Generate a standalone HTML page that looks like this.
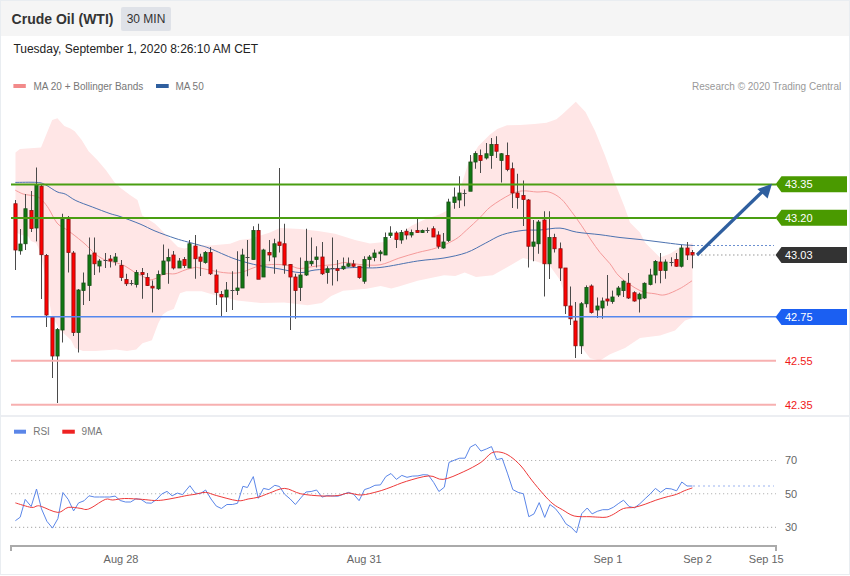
<!DOCTYPE html>
<html><head><meta charset="utf-8"><style>
html,body{margin:0;padding:0;}
body{width:850px;height:576px;overflow:hidden;background:#fff;font-family:"Liberation Sans",sans-serif;}
#wrap{position:relative;width:850px;height:575px;box-sizing:border-box;border:1px solid #e9edf1;background:#fff;}
#hdr{position:absolute;left:0;top:0;width:848px;height:35px;background:#f5f5f5;}
#title{position:absolute;left:10.6px;top:8px;font-size:14px;font-weight:bold;color:#333;line-height:20px;}
#badge{position:absolute;left:120px;top:6px;width:50px;height:24px;background:#dfe2e8;border-radius:2px;font-size:12px;color:#333;line-height:24px;text-align:center;}
#date{position:absolute;left:12.4px;top:39.7px;font-size:12px;color:#222;line-height:16px;}
svg{position:absolute;left:-1px;top:-1px;}
svg text{font-family:"Liberation Sans",sans-serif;}
</style></head><body><div id="wrap">
<div id="hdr"></div>
<div id="title">Crude Oil (WTI)</div>
<div id="badge">30 MIN</div>
<div id="date">Tuesday, September 1, 2020 8:26:10 AM CET</div>
<svg width="850" height="576" viewBox="0 0 850 576">
<polygon points="15.5,152.5 20.0,149.0 41.0,147.5 52.2,120.0 57.4,118.2 64.3,126.0 70.4,128.6 74.7,131.2 81.7,140.0 88.6,151.2 97.3,159.9 106.0,170.3 114.7,182.5 120.0,187.5 130.0,195.0 137.5,200.0 142.2,215.6 154.7,223.4 159.4,228.0 165.6,234.4 178.0,247.0 184.4,248.4 190.6,246.9 200.0,245.3 210.0,245.5 230.0,243.8 240.0,240.0 250.0,238.8 270.0,232.5 280.0,228.0 300.0,229.0 318.0,231.0 335.0,233.8 355.0,240.0 370.0,243.6 384.0,242.0 398.0,235.0 412.0,225.5 425.6,219.0 439.4,214.4 449.5,209.3 459.0,193.0 468.6,162.0 478.2,146.3 489.7,134.8 497.3,129.0 507.0,125.3 520.0,125.0 534.5,124.0 546.6,122.8 556.4,119.2 562.4,114.3 575.8,101.7 585.5,112.0 595.2,131.3 605.0,155.6 614.7,182.3 624.4,206.6 630.0,222.5 640.0,232.5 645.0,242.5 660.0,257.5 670.0,253.8 680.0,247.5 692.5,243.0 692.5,318.0 685.0,320.5 675.0,330.5 660.0,335.5 640.0,338.0 625.0,348.0 610.0,354.2 600.0,360.4 590.0,358.3 580.0,345.0 575.0,335.0 570.0,310.0 565.0,295.0 560.0,280.0 550.0,266.0 535.0,261.0 523.0,258.0 508.0,266.7 492.9,275.2 476.0,277.0 464.7,272.4 455.3,276.1 444.0,275.2 417.6,280.8 398.8,286.5 391.3,288.4 380.6,286.0 366.5,288.8 343.0,290.7 331.2,295.9 321.8,303.0 307.6,305.3 284.0,302.5 260.6,303.0 237.0,300.6 213.5,294.7 201.8,291.2 186.2,291.2 180.0,293.3 173.8,308.9 167.5,311.2 162.8,314.4 158.1,323.8 151.9,340.2 142.5,343.3 136.2,349.5 126.9,351.0 116.0,349.5 95.6,351.0 83.0,351.0 75.0,348.0 71.0,340.0 60.0,330.0 51.4,315.0 47.5,287.5 41.0,256.0 38.0,247.0 36.0,243.0 31.0,241.0 28.0,236.0 21.0,235.0 15.5,232.0" fill="#ffe6e6"/>
<path d="M15.30,190.20 C16.38,190.75 19.93,192.75 21.80,193.50 C23.67,194.25 23.97,194.20 26.50,194.70 C29.03,195.20 34.25,195.42 37.00,196.50 C39.75,197.58 41.03,199.15 43.00,201.20 C44.97,203.25 46.47,205.17 48.80,208.80 C51.13,212.43 54.25,219.67 57.00,223.00 C59.75,226.33 62.80,227.05 65.30,228.80 C67.80,230.55 68.72,230.97 72.00,233.50 C75.28,236.03 81.17,240.62 85.00,244.00 C88.83,247.38 91.67,251.08 95.00,253.75 C98.33,256.42 101.67,258.54 105.00,260.00 C108.33,261.46 111.67,261.50 115.00,262.50 C118.33,263.50 121.67,264.33 125.00,266.00 C128.33,267.67 131.67,270.58 135.00,272.50 C138.33,274.42 142.50,276.25 145.00,277.50 C147.50,278.75 147.83,280.00 150.00,280.00 C152.17,280.00 155.50,278.54 158.00,277.50 C160.50,276.46 162.17,274.38 165.00,273.75 C167.83,273.12 171.67,274.38 175.00,273.75 C178.33,273.12 181.67,271.04 185.00,270.00 C188.33,268.96 192.50,267.83 195.00,267.50 C197.50,267.17 195.25,267.15 200.00,268.00 C204.75,268.85 216.83,271.83 223.50,272.60 C230.17,273.37 235.08,273.37 240.00,272.60 C244.92,271.83 249.50,269.17 253.00,268.00 C256.50,266.83 257.28,266.20 261.00,265.60 C264.72,265.00 270.57,264.40 275.30,264.40 C280.03,264.40 285.28,264.92 289.40,265.60 C293.52,266.28 295.73,268.39 300.00,268.50 C304.27,268.61 309.17,266.92 315.00,266.25 C320.83,265.58 330.00,265.12 335.00,264.50 C340.00,263.88 340.83,262.50 345.00,262.50 C349.17,262.50 354.17,264.12 360.00,264.50 C365.83,264.88 373.53,265.85 380.00,264.80 C386.47,263.75 392.53,260.23 398.80,258.20 C405.07,256.17 411.32,254.32 417.60,252.60 C423.88,250.88 430.22,250.10 436.50,247.90 C442.78,245.70 450.28,242.38 455.30,239.40 C460.32,236.42 462.48,233.65 466.60,230.00 C470.72,226.35 475.97,221.40 480.00,217.50 C484.03,213.60 485.77,210.43 490.80,206.60 C495.83,202.77 504.95,197.12 510.20,194.50 C515.45,191.88 517.83,191.32 522.30,190.90 C526.77,190.48 532.55,191.82 537.00,192.00 C541.45,192.18 545.00,190.88 549.00,192.00 C553.00,193.12 557.29,195.54 561.00,198.75 C564.71,201.96 567.80,206.74 571.25,211.25 C574.70,215.76 578.41,221.01 581.70,225.80 C584.99,230.59 587.95,235.55 591.00,240.00 C594.05,244.45 596.83,248.54 600.00,252.50 C603.17,256.46 606.67,259.67 610.00,263.75 C613.33,267.83 615.00,272.52 620.00,277.00 C625.00,281.48 634.17,287.81 640.00,290.60 C645.83,293.39 650.83,293.05 655.00,293.75 C659.17,294.45 660.83,295.68 665.00,294.80 C669.17,293.93 675.50,290.83 680.00,288.50 C684.50,286.17 690.00,282.08 692.00,280.80" fill="none" stroke="#f59a9a" stroke-width="1"/>
<path d="M15.30,182.40 C18.92,182.40 32.00,182.02 37.00,182.40 C42.00,182.78 41.97,183.13 45.30,184.70 C48.63,186.27 53.67,190.23 57.00,191.80 C60.33,193.37 62.15,192.63 65.30,194.10 C68.45,195.57 71.38,198.45 75.90,200.60 C80.42,202.75 86.72,204.83 92.40,207.00 C98.08,209.17 105.40,212.02 110.00,213.60 C114.60,215.18 115.00,214.77 120.00,216.50 C125.00,218.23 134.17,221.58 140.00,224.00 C145.83,226.42 149.17,228.62 155.00,231.00 C160.83,233.38 169.58,236.48 175.00,238.30 C180.42,240.12 183.33,240.73 187.50,241.90 C191.67,243.07 196.25,244.20 200.00,245.30 C203.75,246.40 204.17,246.22 210.00,248.50 C215.83,250.78 226.83,256.15 235.00,259.00 C243.17,261.85 251.50,263.93 259.00,265.60 C266.50,267.27 273.17,267.83 280.00,269.00 C286.83,270.17 294.17,272.43 300.00,272.60 C305.83,272.77 309.17,270.64 315.00,270.00 C320.83,269.36 328.33,269.17 335.00,268.75 C341.67,268.33 347.50,267.71 355.00,267.50 C362.50,267.29 369.57,268.58 380.00,267.50 C390.43,266.42 406.93,262.58 417.60,261.00 C428.27,259.42 435.83,259.40 444.00,258.00 C452.17,256.60 459.70,255.07 466.60,252.60 C473.50,250.13 479.43,246.18 485.40,243.20 C491.37,240.22 496.13,236.83 502.40,234.70 C508.67,232.57 516.73,231.18 523.00,230.40 C529.27,229.62 533.83,230.38 540.00,230.00 C546.17,229.62 553.92,227.75 560.00,228.10 C566.08,228.45 569.83,231.00 576.50,232.10 C583.17,233.20 592.75,233.80 600.00,234.70 C607.25,235.60 613.33,236.70 620.00,237.50 C626.67,238.30 633.33,238.75 640.00,239.50 C646.67,240.25 653.33,241.17 660.00,242.00 C666.67,242.83 674.50,243.92 680.00,244.50 C685.50,245.08 690.83,245.33 693.00,245.50" fill="none" stroke="#4c72b0" stroke-width="1"/>
<line x1="15.50" y1="200.0" x2="15.50" y2="270.0" stroke="#4a4a4a" stroke-width="1"/>
<rect x="13.90" y="203.75" width="3.2" height="46.25" fill="#ff0000" stroke="#8a1010" stroke-width="0.8"/>
<line x1="20.50" y1="229.0" x2="20.50" y2="254.7" stroke="#4a4a4a" stroke-width="1"/>
<rect x="18.90" y="244.0" width="3.2" height="6.80" fill="#117711" stroke="#1a4d1a" stroke-width="0.8"/>
<line x1="25.50" y1="194.0" x2="25.50" y2="250.0" stroke="#4a4a4a" stroke-width="1"/>
<rect x="23.90" y="208.75" width="3.2" height="35.00" fill="#117711" stroke="#1a4d1a" stroke-width="0.8"/>
<line x1="31.50" y1="191.0" x2="31.50" y2="232.0" stroke="#4a4a4a" stroke-width="1"/>
<rect x="29.90" y="210.5" width="3.2" height="18.00" fill="#ff0000" stroke="#8a1010" stroke-width="0.8"/>
<line x1="36.50" y1="167.5" x2="36.50" y2="241.4" stroke="#4a4a4a" stroke-width="1"/>
<rect x="34.90" y="185.0" width="3.2" height="43.00" fill="#117711" stroke="#1a4d1a" stroke-width="0.8"/>
<line x1="41.50" y1="184.0" x2="41.50" y2="299.0" stroke="#4a4a4a" stroke-width="1"/>
<rect x="39.90" y="186.25" width="3.2" height="68.45" fill="#ff0000" stroke="#8a1010" stroke-width="0.8"/>
<line x1="46.50" y1="254.0" x2="46.50" y2="327.0" stroke="#4a4a4a" stroke-width="1"/>
<rect x="44.90" y="255.5" width="3.2" height="59.50" fill="#ff0000" stroke="#8a1010" stroke-width="0.8"/>
<line x1="52.50" y1="316.0" x2="52.50" y2="378.0" stroke="#4a4a4a" stroke-width="1"/>
<rect x="50.90" y="317.0" width="3.2" height="39.00" fill="#ff0000" stroke="#8a1010" stroke-width="0.8"/>
<line x1="57.50" y1="328.0" x2="57.50" y2="403.0" stroke="#4a4a4a" stroke-width="1"/>
<rect x="55.90" y="329.6" width="3.2" height="26.40" fill="#117711" stroke="#1a4d1a" stroke-width="0.8"/>
<line x1="62.50" y1="213.75" x2="62.50" y2="342.5" stroke="#4a4a4a" stroke-width="1"/>
<rect x="60.90" y="219.5" width="3.2" height="110.50" fill="#117711" stroke="#1a4d1a" stroke-width="0.8"/>
<line x1="68.50" y1="216.0" x2="68.50" y2="272.5" stroke="#4a4a4a" stroke-width="1"/>
<rect x="66.90" y="219.5" width="3.2" height="33.00" fill="#ff0000" stroke="#8a1010" stroke-width="0.8"/>
<line x1="73.50" y1="251.0" x2="73.50" y2="336.0" stroke="#4a4a4a" stroke-width="1"/>
<rect x="71.90" y="253.0" width="3.2" height="79.50" fill="#ff0000" stroke="#8a1010" stroke-width="0.8"/>
<line x1="78.50" y1="289.0" x2="78.50" y2="352.5" stroke="#4a4a4a" stroke-width="1"/>
<rect x="76.90" y="290.0" width="3.2" height="42.50" fill="#117711" stroke="#1a4d1a" stroke-width="0.8"/>
<line x1="83.50" y1="272.5" x2="83.50" y2="305.0" stroke="#4a4a4a" stroke-width="1"/>
<rect x="81.90" y="283.0" width="3.2" height="7.50" fill="#117711" stroke="#1a4d1a" stroke-width="0.8"/>
<line x1="89.50" y1="237.5" x2="89.50" y2="301.0" stroke="#4a4a4a" stroke-width="1"/>
<rect x="87.90" y="255.0" width="3.2" height="30.50" fill="#117711" stroke="#1a4d1a" stroke-width="0.8"/>
<line x1="94.50" y1="237.5" x2="94.50" y2="275.0" stroke="#4a4a4a" stroke-width="1"/>
<rect x="92.90" y="253.0" width="3.2" height="10.75" fill="#ff0000" stroke="#8a1010" stroke-width="0.8"/>
<line x1="99.50" y1="259.0" x2="99.50" y2="272.5" stroke="#4a4a4a" stroke-width="1"/>
<rect x="97.90" y="261.0" width="3.2" height="5.00" fill="#117711" stroke="#1a4d1a" stroke-width="0.8"/>
<line x1="105.50" y1="253.0" x2="105.50" y2="268.0" stroke="#4a4a4a" stroke-width="1"/>
<line x1="103.50" y1="260.5" x2="107.50" y2="260.5" stroke="#4a4a4a" stroke-width="1"/>
<line x1="110.50" y1="255.0" x2="110.50" y2="267.5" stroke="#4a4a4a" stroke-width="1"/>
<rect x="108.90" y="259.0" width="3.2" height="2.00" fill="#ff0000" stroke="#8a1010" stroke-width="0.8"/>
<line x1="115.50" y1="253.0" x2="115.50" y2="265.5" stroke="#4a4a4a" stroke-width="1"/>
<rect x="113.90" y="257.0" width="3.2" height="4.75" fill="#117711" stroke="#1a4d1a" stroke-width="0.8"/>
<line x1="121.50" y1="260.0" x2="121.50" y2="281.0" stroke="#4a4a4a" stroke-width="1"/>
<rect x="119.90" y="265.5" width="3.2" height="12.00" fill="#ff0000" stroke="#8a1010" stroke-width="0.8"/>
<line x1="126.50" y1="273.75" x2="126.50" y2="286.0" stroke="#4a4a4a" stroke-width="1"/>
<rect x="124.90" y="279.5" width="3.2" height="4.25" fill="#ff0000" stroke="#8a1010" stroke-width="0.8"/>
<line x1="131.50" y1="280.0" x2="131.50" y2="285.5" stroke="#4a4a4a" stroke-width="1"/>
<line x1="129.50" y1="283.5" x2="133.50" y2="283.5" stroke="#4a4a4a" stroke-width="1"/>
<line x1="136.50" y1="270.0" x2="136.50" y2="287.5" stroke="#4a4a4a" stroke-width="1"/>
<rect x="134.90" y="272.5" width="3.2" height="12.00" fill="#117711" stroke="#1a4d1a" stroke-width="0.8"/>
<line x1="142.50" y1="268.0" x2="142.50" y2="298.75" stroke="#4a4a4a" stroke-width="1"/>
<rect x="140.90" y="272.5" width="3.2" height="2.00" fill="#ff0000" stroke="#8a1010" stroke-width="0.8"/>
<line x1="147.50" y1="273.0" x2="147.50" y2="286.0" stroke="#4a4a4a" stroke-width="1"/>
<rect x="145.90" y="277.5" width="3.2" height="8.00" fill="#ff0000" stroke="#8a1010" stroke-width="0.8"/>
<line x1="152.50" y1="280.5" x2="152.50" y2="312.5" stroke="#4a4a4a" stroke-width="1"/>
<rect x="150.90" y="286.25" width="3.2" height="1.75" fill="#ff0000" stroke="#8a1010" stroke-width="0.8"/>
<line x1="158.50" y1="270.5" x2="158.50" y2="290.0" stroke="#4a4a4a" stroke-width="1"/>
<rect x="156.90" y="274.5" width="3.2" height="14.25" fill="#117711" stroke="#1a4d1a" stroke-width="0.8"/>
<line x1="163.50" y1="244.5" x2="163.50" y2="275.0" stroke="#4a4a4a" stroke-width="1"/>
<rect x="161.90" y="261.0" width="3.2" height="13.50" fill="#117711" stroke="#1a4d1a" stroke-width="0.8"/>
<line x1="168.50" y1="248.75" x2="168.50" y2="283.75" stroke="#4a4a4a" stroke-width="1"/>
<rect x="166.90" y="257.5" width="3.2" height="3.50" fill="#117711" stroke="#1a4d1a" stroke-width="0.8"/>
<line x1="173.50" y1="251.0" x2="173.50" y2="269.5" stroke="#4a4a4a" stroke-width="1"/>
<rect x="171.90" y="255.0" width="3.2" height="13.00" fill="#ff0000" stroke="#8a1010" stroke-width="0.8"/>
<line x1="179.50" y1="258.0" x2="179.50" y2="268.0" stroke="#4a4a4a" stroke-width="1"/>
<rect x="177.90" y="261.0" width="3.2" height="7.00" fill="#117711" stroke="#1a4d1a" stroke-width="0.8"/>
<line x1="184.50" y1="257.0" x2="184.50" y2="268.0" stroke="#4a4a4a" stroke-width="1"/>
<rect x="182.90" y="259.5" width="3.2" height="6.00" fill="#ff0000" stroke="#8a1010" stroke-width="0.8"/>
<line x1="189.50" y1="240.0" x2="189.50" y2="268.0" stroke="#4a4a4a" stroke-width="1"/>
<rect x="187.90" y="243.75" width="3.2" height="24.25" fill="#117711" stroke="#1a4d1a" stroke-width="0.8"/>
<line x1="195.50" y1="235.0" x2="195.50" y2="278.75" stroke="#4a4a4a" stroke-width="1"/>
<rect x="193.90" y="246.0" width="3.2" height="12.75" fill="#ff0000" stroke="#8a1010" stroke-width="0.8"/>
<line x1="200.50" y1="253.75" x2="200.50" y2="276.0" stroke="#4a4a4a" stroke-width="1"/>
<rect x="198.90" y="257.0" width="3.2" height="4.25" fill="#ff0000" stroke="#8a1010" stroke-width="0.8"/>
<line x1="205.50" y1="251.0" x2="205.50" y2="263.75" stroke="#4a4a4a" stroke-width="1"/>
<rect x="203.90" y="252.5" width="3.2" height="10.00" fill="#117711" stroke="#1a4d1a" stroke-width="0.8"/>
<line x1="210.50" y1="247.0" x2="210.50" y2="275.0" stroke="#4a4a4a" stroke-width="1"/>
<rect x="208.90" y="252.5" width="3.2" height="21.25" fill="#ff0000" stroke="#8a1010" stroke-width="0.8"/>
<line x1="216.50" y1="269.5" x2="216.50" y2="305.0" stroke="#4a4a4a" stroke-width="1"/>
<rect x="214.90" y="275.0" width="3.2" height="17.50" fill="#ff0000" stroke="#8a1010" stroke-width="0.8"/>
<line x1="221.50" y1="291.0" x2="221.50" y2="316.25" stroke="#4a4a4a" stroke-width="1"/>
<rect x="219.90" y="294.5" width="3.2" height="2.50" fill="#ff0000" stroke="#8a1010" stroke-width="0.8"/>
<line x1="226.50" y1="282.0" x2="226.50" y2="312.0" stroke="#4a4a4a" stroke-width="1"/>
<rect x="224.90" y="290.0" width="3.2" height="7.00" fill="#117711" stroke="#1a4d1a" stroke-width="0.8"/>
<line x1="232.50" y1="271.25" x2="232.50" y2="310.0" stroke="#4a4a4a" stroke-width="1"/>
<line x1="230.50" y1="290.5" x2="234.50" y2="290.5" stroke="#4a4a4a" stroke-width="1"/>
<line x1="237.50" y1="251.25" x2="237.50" y2="295.0" stroke="#4a4a4a" stroke-width="1"/>
<rect x="235.90" y="288.0" width="3.2" height="2.50" fill="#117711" stroke="#1a4d1a" stroke-width="0.8"/>
<line x1="242.50" y1="248.75" x2="242.50" y2="288.0" stroke="#4a4a4a" stroke-width="1"/>
<rect x="240.90" y="255.0" width="3.2" height="33.00" fill="#117711" stroke="#1a4d1a" stroke-width="0.8"/>
<line x1="247.50" y1="240.0" x2="247.50" y2="276.25" stroke="#4a4a4a" stroke-width="1"/>
<line x1="245.50" y1="257.5" x2="249.50" y2="257.5" stroke="#4a4a4a" stroke-width="1"/>
<line x1="253.50" y1="226.25" x2="253.50" y2="259.5" stroke="#4a4a4a" stroke-width="1"/>
<rect x="251.90" y="230.5" width="3.2" height="29.00" fill="#117711" stroke="#1a4d1a" stroke-width="0.8"/>
<line x1="258.50" y1="223.75" x2="258.50" y2="279.0" stroke="#4a4a4a" stroke-width="1"/>
<rect x="256.90" y="230.5" width="3.2" height="48.75" fill="#ff0000" stroke="#8a1010" stroke-width="0.8"/>
<line x1="263.50" y1="248.75" x2="263.50" y2="277.0" stroke="#4a4a4a" stroke-width="1"/>
<rect x="261.90" y="250.0" width="3.2" height="27.00" fill="#117711" stroke="#1a4d1a" stroke-width="0.8"/>
<line x1="269.50" y1="240.0" x2="269.50" y2="261.25" stroke="#4a4a4a" stroke-width="1"/>
<rect x="267.90" y="252.5" width="3.2" height="2.50" fill="#ff0000" stroke="#8a1010" stroke-width="0.8"/>
<line x1="274.50" y1="238.75" x2="274.50" y2="273.75" stroke="#4a4a4a" stroke-width="1"/>
<rect x="272.90" y="243.75" width="3.2" height="13.25" fill="#117711" stroke="#1a4d1a" stroke-width="0.8"/>
<line x1="279.50" y1="168.0" x2="279.50" y2="252.5" stroke="#4a4a4a" stroke-width="1"/>
<rect x="277.90" y="242.0" width="3.2" height="3.50" fill="#ff0000" stroke="#8a1010" stroke-width="0.8"/>
<line x1="284.50" y1="223.75" x2="284.50" y2="273.75" stroke="#4a4a4a" stroke-width="1"/>
<rect x="282.90" y="243.75" width="3.2" height="21.25" fill="#ff0000" stroke="#8a1010" stroke-width="0.8"/>
<line x1="290.50" y1="264.0" x2="290.50" y2="330.0" stroke="#4a4a4a" stroke-width="1"/>
<rect x="288.90" y="264.5" width="3.2" height="12.50" fill="#ff0000" stroke="#8a1010" stroke-width="0.8"/>
<line x1="295.50" y1="273.75" x2="295.50" y2="318.75" stroke="#4a4a4a" stroke-width="1"/>
<rect x="293.90" y="277.0" width="3.2" height="13.50" fill="#ff0000" stroke="#8a1010" stroke-width="0.8"/>
<line x1="300.50" y1="257.5" x2="300.50" y2="301.0" stroke="#4a4a4a" stroke-width="1"/>
<rect x="298.90" y="275.0" width="3.2" height="12.50" fill="#117711" stroke="#1a4d1a" stroke-width="0.8"/>
<line x1="306.50" y1="228.75" x2="306.50" y2="276.0" stroke="#4a4a4a" stroke-width="1"/>
<rect x="304.90" y="261.25" width="3.2" height="13.75" fill="#117711" stroke="#1a4d1a" stroke-width="0.8"/>
<line x1="311.50" y1="237.5" x2="311.50" y2="266.0" stroke="#4a4a4a" stroke-width="1"/>
<rect x="309.90" y="261.25" width="3.2" height="2.50" fill="#117711" stroke="#1a4d1a" stroke-width="0.8"/>
<line x1="316.50" y1="246.25" x2="316.50" y2="267.5" stroke="#4a4a4a" stroke-width="1"/>
<rect x="314.90" y="257.0" width="3.2" height="2.50" fill="#117711" stroke="#1a4d1a" stroke-width="0.8"/>
<line x1="322.50" y1="242.0" x2="322.50" y2="275.0" stroke="#4a4a4a" stroke-width="1"/>
<rect x="320.90" y="257.0" width="3.2" height="16.75" fill="#ff0000" stroke="#8a1010" stroke-width="0.8"/>
<line x1="327.50" y1="266.25" x2="327.50" y2="283.75" stroke="#4a4a4a" stroke-width="1"/>
<rect x="325.90" y="268.75" width="3.2" height="3.75" fill="#117711" stroke="#1a4d1a" stroke-width="0.8"/>
<line x1="332.50" y1="237.5" x2="332.50" y2="285.5" stroke="#4a4a4a" stroke-width="1"/>
<line x1="330.50" y1="268.5" x2="334.50" y2="268.5" stroke="#4a4a4a" stroke-width="1"/>
<line x1="337.50" y1="260.0" x2="337.50" y2="281.25" stroke="#4a4a4a" stroke-width="1"/>
<rect x="335.90" y="268.75" width="3.2" height="1.75" fill="#ff0000" stroke="#8a1010" stroke-width="0.8"/>
<line x1="343.50" y1="257.5" x2="343.50" y2="270.0" stroke="#4a4a4a" stroke-width="1"/>
<rect x="341.90" y="266.25" width="3.2" height="2.50" fill="#117711" stroke="#1a4d1a" stroke-width="0.8"/>
<line x1="348.50" y1="257.5" x2="348.50" y2="267.0" stroke="#4a4a4a" stroke-width="1"/>
<rect x="346.90" y="263.75" width="3.2" height="2.50" fill="#117711" stroke="#1a4d1a" stroke-width="0.8"/>
<line x1="353.50" y1="260.0" x2="353.50" y2="267.5" stroke="#4a4a4a" stroke-width="1"/>
<rect x="351.90" y="264.0" width="3.2" height="2.25" fill="#ff0000" stroke="#8a1010" stroke-width="0.8"/>
<line x1="359.50" y1="266.0" x2="359.50" y2="278.75" stroke="#4a4a4a" stroke-width="1"/>
<rect x="357.90" y="266.25" width="3.2" height="11.25" fill="#ff0000" stroke="#8a1010" stroke-width="0.8"/>
<line x1="364.50" y1="256.25" x2="364.50" y2="283.75" stroke="#4a4a4a" stroke-width="1"/>
<rect x="362.90" y="259.5" width="3.2" height="21.75" fill="#117711" stroke="#1a4d1a" stroke-width="0.8"/>
<line x1="369.50" y1="255.0" x2="369.50" y2="267.5" stroke="#4a4a4a" stroke-width="1"/>
<rect x="367.90" y="257.0" width="3.2" height="2.50" fill="#117711" stroke="#1a4d1a" stroke-width="0.8"/>
<line x1="374.50" y1="249.5" x2="374.50" y2="261.25" stroke="#4a4a4a" stroke-width="1"/>
<rect x="372.90" y="253.0" width="3.2" height="4.50" fill="#117711" stroke="#1a4d1a" stroke-width="0.8"/>
<line x1="380.50" y1="250.0" x2="380.50" y2="261.25" stroke="#4a4a4a" stroke-width="1"/>
<rect x="378.90" y="252.0" width="3.2" height="1.75" fill="#117711" stroke="#1a4d1a" stroke-width="0.8"/>
<line x1="385.50" y1="232.5" x2="385.50" y2="255.0" stroke="#4a4a4a" stroke-width="1"/>
<rect x="383.90" y="237.5" width="3.2" height="17.50" fill="#117711" stroke="#1a4d1a" stroke-width="0.8"/>
<line x1="390.50" y1="226.25" x2="390.50" y2="238.0" stroke="#4a4a4a" stroke-width="1"/>
<rect x="388.90" y="233.0" width="3.2" height="2.50" fill="#117711" stroke="#1a4d1a" stroke-width="0.8"/>
<line x1="396.50" y1="231.25" x2="396.50" y2="248.0" stroke="#4a4a4a" stroke-width="1"/>
<rect x="394.90" y="233.0" width="3.2" height="6.50" fill="#ff0000" stroke="#8a1010" stroke-width="0.8"/>
<line x1="401.50" y1="230.0" x2="401.50" y2="243.75" stroke="#4a4a4a" stroke-width="1"/>
<rect x="399.90" y="232.5" width="3.2" height="7.50" fill="#117711" stroke="#1a4d1a" stroke-width="0.8"/>
<line x1="406.50" y1="228.75" x2="406.50" y2="239.5" stroke="#4a4a4a" stroke-width="1"/>
<rect x="404.90" y="231.25" width="3.2" height="3.75" fill="#ff0000" stroke="#8a1010" stroke-width="0.8"/>
<line x1="411.50" y1="229.5" x2="411.50" y2="237.5" stroke="#4a4a4a" stroke-width="1"/>
<rect x="409.90" y="232.5" width="3.2" height="2.50" fill="#117711" stroke="#1a4d1a" stroke-width="0.8"/>
<line x1="417.50" y1="218.75" x2="417.50" y2="232.5" stroke="#4a4a4a" stroke-width="1"/>
<rect x="415.90" y="230.5" width="3.2" height="2.00" fill="#ff0000" stroke="#8a1010" stroke-width="0.8"/>
<line x1="422.50" y1="229.5" x2="422.50" y2="233.0" stroke="#4a4a4a" stroke-width="1"/>
<rect x="420.90" y="230.5" width="3.2" height="2.00" fill="#117711" stroke="#1a4d1a" stroke-width="0.8"/>
<line x1="427.50" y1="227.5" x2="427.50" y2="233.0" stroke="#4a4a4a" stroke-width="1"/>
<line x1="425.50" y1="230.5" x2="429.50" y2="230.5" stroke="#4a4a4a" stroke-width="1"/>
<line x1="433.50" y1="226.25" x2="433.50" y2="237.0" stroke="#4a4a4a" stroke-width="1"/>
<rect x="431.90" y="228.75" width="3.2" height="8.25" fill="#ff0000" stroke="#8a1010" stroke-width="0.8"/>
<line x1="438.50" y1="231.25" x2="438.50" y2="248.75" stroke="#4a4a4a" stroke-width="1"/>
<rect x="436.90" y="235.0" width="3.2" height="11.25" fill="#ff0000" stroke="#8a1010" stroke-width="0.8"/>
<line x1="443.50" y1="233.0" x2="443.50" y2="248.75" stroke="#4a4a4a" stroke-width="1"/>
<rect x="441.90" y="242.0" width="3.2" height="6.00" fill="#117711" stroke="#1a4d1a" stroke-width="0.8"/>
<line x1="448.50" y1="198.75" x2="448.50" y2="242.0" stroke="#4a4a4a" stroke-width="1"/>
<rect x="446.90" y="202.0" width="3.2" height="38.50" fill="#117711" stroke="#1a4d1a" stroke-width="0.8"/>
<line x1="454.50" y1="187.5" x2="454.50" y2="208.75" stroke="#4a4a4a" stroke-width="1"/>
<rect x="452.90" y="197.0" width="3.2" height="5.50" fill="#117711" stroke="#1a4d1a" stroke-width="0.8"/>
<line x1="459.50" y1="176.25" x2="459.50" y2="208.0" stroke="#4a4a4a" stroke-width="1"/>
<rect x="457.90" y="193.0" width="3.2" height="7.00" fill="#117711" stroke="#1a4d1a" stroke-width="0.8"/>
<line x1="464.50" y1="189.5" x2="464.50" y2="206.25" stroke="#4a4a4a" stroke-width="1"/>
<line x1="462.50" y1="193.5" x2="466.50" y2="193.5" stroke="#4a4a4a" stroke-width="1"/>
<line x1="470.50" y1="155.0" x2="470.50" y2="191.0" stroke="#4a4a4a" stroke-width="1"/>
<rect x="468.90" y="162.0" width="3.2" height="29.25" fill="#117711" stroke="#1a4d1a" stroke-width="0.8"/>
<line x1="475.50" y1="151.25" x2="475.50" y2="168.75" stroke="#4a4a4a" stroke-width="1"/>
<rect x="473.90" y="153.5" width="3.2" height="8.50" fill="#117711" stroke="#1a4d1a" stroke-width="0.8"/>
<line x1="480.50" y1="149.5" x2="480.50" y2="173.0" stroke="#4a4a4a" stroke-width="1"/>
<rect x="478.90" y="155.5" width="3.2" height="5.00" fill="#ff0000" stroke="#8a1010" stroke-width="0.8"/>
<line x1="486.50" y1="143.0" x2="486.50" y2="159.5" stroke="#4a4a4a" stroke-width="1"/>
<rect x="484.90" y="153.75" width="3.2" height="4.25" fill="#117711" stroke="#1a4d1a" stroke-width="0.8"/>
<line x1="491.50" y1="138.0" x2="491.50" y2="168.75" stroke="#4a4a4a" stroke-width="1"/>
<rect x="489.90" y="144.5" width="3.2" height="11.00" fill="#117711" stroke="#1a4d1a" stroke-width="0.8"/>
<line x1="496.50" y1="136.25" x2="496.50" y2="158.0" stroke="#4a4a4a" stroke-width="1"/>
<rect x="494.90" y="144.5" width="3.2" height="6.75" fill="#ff0000" stroke="#8a1010" stroke-width="0.8"/>
<line x1="501.50" y1="153.0" x2="501.50" y2="182.5" stroke="#4a4a4a" stroke-width="1"/>
<rect x="499.90" y="153.75" width="3.2" height="6.75" fill="#117711" stroke="#1a4d1a" stroke-width="0.8"/>
<line x1="507.50" y1="142.5" x2="507.50" y2="171.25" stroke="#4a4a4a" stroke-width="1"/>
<rect x="505.90" y="155.5" width="3.2" height="14.00" fill="#ff0000" stroke="#8a1010" stroke-width="0.8"/>
<line x1="512.50" y1="162.5" x2="512.50" y2="208.0" stroke="#4a4a4a" stroke-width="1"/>
<rect x="510.90" y="168.75" width="3.2" height="24.25" fill="#ff0000" stroke="#8a1010" stroke-width="0.8"/>
<line x1="517.50" y1="173.75" x2="517.50" y2="208.75" stroke="#4a4a4a" stroke-width="1"/>
<rect x="515.90" y="193.0" width="3.2" height="4.50" fill="#ff0000" stroke="#8a1010" stroke-width="0.8"/>
<line x1="523.50" y1="180.5" x2="523.50" y2="226.0" stroke="#4a4a4a" stroke-width="1"/>
<rect x="521.90" y="195.5" width="3.2" height="4.00" fill="#ff0000" stroke="#8a1010" stroke-width="0.8"/>
<line x1="528.50" y1="199.0" x2="528.50" y2="267.5" stroke="#4a4a4a" stroke-width="1"/>
<rect x="526.90" y="200.0" width="3.2" height="46.25" fill="#ff0000" stroke="#8a1010" stroke-width="0.8"/>
<line x1="533.50" y1="220.0" x2="533.50" y2="261.25" stroke="#4a4a4a" stroke-width="1"/>
<rect x="531.90" y="242.0" width="3.2" height="4.25" fill="#117711" stroke="#1a4d1a" stroke-width="0.8"/>
<line x1="538.50" y1="220.0" x2="538.50" y2="253.75" stroke="#4a4a4a" stroke-width="1"/>
<rect x="536.90" y="222.0" width="3.2" height="21.75" fill="#117711" stroke="#1a4d1a" stroke-width="0.8"/>
<line x1="544.50" y1="211.25" x2="544.50" y2="296.5" stroke="#4a4a4a" stroke-width="1"/>
<rect x="542.90" y="220.0" width="3.2" height="43.75" fill="#ff0000" stroke="#8a1010" stroke-width="0.8"/>
<line x1="549.50" y1="211.25" x2="549.50" y2="279.0" stroke="#4a4a4a" stroke-width="1"/>
<rect x="547.90" y="237.5" width="3.2" height="26.25" fill="#117711" stroke="#1a4d1a" stroke-width="0.8"/>
<line x1="554.50" y1="233.75" x2="554.50" y2="252.5" stroke="#4a4a4a" stroke-width="1"/>
<rect x="552.90" y="237.5" width="3.2" height="11.25" fill="#ff0000" stroke="#8a1010" stroke-width="0.8"/>
<line x1="560.50" y1="242.5" x2="560.50" y2="281.0" stroke="#4a4a4a" stroke-width="1"/>
<rect x="558.90" y="248.75" width="3.2" height="19.25" fill="#ff0000" stroke="#8a1010" stroke-width="0.8"/>
<line x1="565.50" y1="268.0" x2="565.50" y2="314.0" stroke="#4a4a4a" stroke-width="1"/>
<rect x="563.90" y="268.0" width="3.2" height="37.80" fill="#ff0000" stroke="#8a1010" stroke-width="0.8"/>
<line x1="570.50" y1="286.5" x2="570.50" y2="325.0" stroke="#4a4a4a" stroke-width="1"/>
<rect x="568.90" y="306.0" width="3.2" height="12.75" fill="#ff0000" stroke="#8a1010" stroke-width="0.8"/>
<line x1="575.50" y1="302.0" x2="575.50" y2="358.0" stroke="#4a4a4a" stroke-width="1"/>
<rect x="573.90" y="321.0" width="3.2" height="24.80" fill="#ff0000" stroke="#8a1010" stroke-width="0.8"/>
<line x1="581.50" y1="302.0" x2="581.50" y2="354.0" stroke="#4a4a4a" stroke-width="1"/>
<rect x="579.90" y="303.75" width="3.2" height="42.05" fill="#117711" stroke="#1a4d1a" stroke-width="0.8"/>
<line x1="586.50" y1="285.4" x2="586.50" y2="307.5" stroke="#4a4a4a" stroke-width="1"/>
<rect x="584.90" y="287.5" width="3.2" height="16.25" fill="#117711" stroke="#1a4d1a" stroke-width="0.8"/>
<line x1="591.50" y1="284.4" x2="591.50" y2="313.6" stroke="#4a4a4a" stroke-width="1"/>
<rect x="589.90" y="286.0" width="3.2" height="26.50" fill="#ff0000" stroke="#8a1010" stroke-width="0.8"/>
<line x1="597.50" y1="297.5" x2="597.50" y2="318.0" stroke="#4a4a4a" stroke-width="1"/>
<rect x="595.90" y="306.0" width="3.2" height="4.00" fill="#117711" stroke="#1a4d1a" stroke-width="0.8"/>
<line x1="602.50" y1="297.5" x2="602.50" y2="318.75" stroke="#4a4a4a" stroke-width="1"/>
<rect x="600.90" y="301.0" width="3.2" height="7.00" fill="#117711" stroke="#1a4d1a" stroke-width="0.8"/>
<line x1="607.50" y1="275.0" x2="607.50" y2="305.8" stroke="#4a4a4a" stroke-width="1"/>
<rect x="605.90" y="299.0" width="3.2" height="2.00" fill="#ff0000" stroke="#8a1010" stroke-width="0.8"/>
<line x1="612.50" y1="290.6" x2="612.50" y2="303.75" stroke="#4a4a4a" stroke-width="1"/>
<rect x="610.90" y="297.0" width="3.2" height="4.50" fill="#117711" stroke="#1a4d1a" stroke-width="0.8"/>
<line x1="618.50" y1="286.0" x2="618.50" y2="297.0" stroke="#4a4a4a" stroke-width="1"/>
<rect x="616.90" y="288.0" width="3.2" height="7.00" fill="#117711" stroke="#1a4d1a" stroke-width="0.8"/>
<line x1="623.50" y1="280.2" x2="623.50" y2="297.0" stroke="#4a4a4a" stroke-width="1"/>
<rect x="621.90" y="281.25" width="3.2" height="9.35" fill="#117711" stroke="#1a4d1a" stroke-width="0.8"/>
<line x1="628.50" y1="273.0" x2="628.50" y2="299.0" stroke="#4a4a4a" stroke-width="1"/>
<rect x="626.90" y="283.3" width="3.2" height="14.70" fill="#ff0000" stroke="#8a1010" stroke-width="0.8"/>
<line x1="634.50" y1="291.25" x2="634.50" y2="301.7" stroke="#4a4a4a" stroke-width="1"/>
<rect x="632.90" y="292.7" width="3.2" height="8.30" fill="#ff0000" stroke="#8a1010" stroke-width="0.8"/>
<line x1="639.50" y1="292.7" x2="639.50" y2="312.5" stroke="#4a4a4a" stroke-width="1"/>
<rect x="637.90" y="294.2" width="3.2" height="4.80" fill="#117711" stroke="#1a4d1a" stroke-width="0.8"/>
<line x1="644.50" y1="282.3" x2="644.50" y2="299.0" stroke="#4a4a4a" stroke-width="1"/>
<rect x="642.90" y="283.3" width="3.2" height="14.70" fill="#117711" stroke="#1a4d1a" stroke-width="0.8"/>
<line x1="650.50" y1="268.75" x2="650.50" y2="285.4" stroke="#4a4a4a" stroke-width="1"/>
<rect x="648.90" y="275.0" width="3.2" height="9.40" fill="#117711" stroke="#1a4d1a" stroke-width="0.8"/>
<line x1="655.50" y1="260.0" x2="655.50" y2="283.3" stroke="#4a4a4a" stroke-width="1"/>
<rect x="653.90" y="261.5" width="3.2" height="13.50" fill="#117711" stroke="#1a4d1a" stroke-width="0.8"/>
<line x1="660.50" y1="253.0" x2="660.50" y2="283.3" stroke="#4a4a4a" stroke-width="1"/>
<rect x="658.90" y="262.0" width="3.2" height="8.40" fill="#ff0000" stroke="#8a1010" stroke-width="0.8"/>
<line x1="665.50" y1="259.4" x2="665.50" y2="278.75" stroke="#4a4a4a" stroke-width="1"/>
<rect x="663.90" y="262.0" width="3.2" height="8.50" fill="#117711" stroke="#1a4d1a" stroke-width="0.8"/>
<line x1="671.50" y1="257.3" x2="671.50" y2="266.25" stroke="#4a4a4a" stroke-width="1"/>
<line x1="669.50" y1="262.5" x2="673.50" y2="262.5" stroke="#4a4a4a" stroke-width="1"/>
<line x1="676.50" y1="253.0" x2="676.50" y2="266.7" stroke="#4a4a4a" stroke-width="1"/>
<rect x="674.90" y="259.5" width="3.2" height="6.75" fill="#ff0000" stroke="#8a1010" stroke-width="0.8"/>
<line x1="681.50" y1="245.0" x2="681.50" y2="267.5" stroke="#4a4a4a" stroke-width="1"/>
<rect x="679.90" y="248.0" width="3.2" height="18.25" fill="#117711" stroke="#1a4d1a" stroke-width="0.8"/>
<line x1="687.50" y1="242.0" x2="687.50" y2="260.0" stroke="#4a4a4a" stroke-width="1"/>
<rect x="685.90" y="248.0" width="3.2" height="7.00" fill="#ff0000" stroke="#8a1010" stroke-width="0.8"/>
<line x1="692.50" y1="250.0" x2="692.50" y2="268.3" stroke="#4a4a4a" stroke-width="1"/>
<rect x="690.90" y="252.5" width="3.2" height="2.50" fill="#ff0000" stroke="#8a1010" stroke-width="0.8"/>
<line x1="11" y1="184.4" x2="776" y2="184.4" stroke="#4a9e12" stroke-width="2"/>
<line x1="11" y1="217.9" x2="776" y2="217.9" stroke="#4a9e12" stroke-width="2"/>
<line x1="11" y1="316.8" x2="776" y2="316.8" stroke="#5588ee" stroke-width="1.5"/>
<line x1="11" y1="360.8" x2="776" y2="360.8" stroke="#f7b0b0" stroke-width="2"/>
<line x1="11" y1="404.8" x2="776" y2="404.8" stroke="#f7b0b0" stroke-width="2"/>
<line x1="693" y1="245.5" x2="774" y2="245.5" stroke="#6a8fd0" stroke-width="1" stroke-dasharray="2,2"/>
<line x1="693" y1="255" x2="775" y2="255" stroke="#999" stroke-width="1.2" stroke-dasharray="1.5,2.5"/>
<path d="M775.6,184.3 L781.5,176.3 L847,176.3 L847,192.3 L781.5,192.3 Z" fill="#4a9a00"/><text x="785" y="188.20000000000002" fill="#fff" font-size="11">43.35</text>
<path d="M775.6,217.7 L781.5,209.7 L847,209.7 L847,225.7 L781.5,225.7 Z" fill="#4a9a00"/><text x="785" y="221.6" fill="#fff" font-size="11">43.20</text>
<path d="M775.6,255 L781.5,247 L847,247 L847,263 L781.5,263 Z" fill="#333333"/><text x="785" y="258.9" fill="#fff" font-size="11">43.03</text>
<path d="M775.6,317 L781.5,309 L847,309 L847,325 L781.5,325 Z" fill="#1b5ff2"/><text x="785" y="320.9" fill="#fff" font-size="11">42.75</text>
<text x="785" y="365" fill="#f01818" font-size="11">42.55</text>
<text x="785" y="409" fill="#f01818" font-size="11">42.35</text>
<line x1="697" y1="255" x2="762" y2="192" stroke="#2f5f9f" stroke-width="3.2"/>
<polygon points="772,183.8 757.4,189.1 767.6,198.5" fill="#2f5f9f"/>
<line x1="1" y1="416" x2="849" y2="416" stroke="#e6e9ee" stroke-width="1.5"/>
<line x1="11" y1="460.5" x2="776" y2="460.5" stroke="#b5b5b5" stroke-width="1.1" stroke-dasharray="1.2,2.8"/>
<line x1="11" y1="493.8" x2="776" y2="493.8" stroke="#b5b5b5" stroke-width="1.1" stroke-dasharray="1.2,2.8"/>
<line x1="11" y1="527.4" x2="776" y2="527.4" stroke="#b5b5b5" stroke-width="1.1" stroke-dasharray="1.2,2.8"/>
<text x="785" y="463.8" fill="#666" font-size="11">70</text>
<text x="785" y="498" fill="#666" font-size="11">50</text>
<text x="785" y="531.3" fill="#666" font-size="11">30</text>
<polyline points="15.4,520.7 20.2,517.2 25.2,499.4 31.2,506.5 36.5,489.0 41.5,508.9 46.9,521.3 52.5,528.1 57.9,518.6 62.9,492.5 68.2,499.4 73.6,510.9 78.6,502.9 84.0,500.8 89.0,495.8 94.4,497.0 99.4,497.0 104.7,497.0 109.8,497.0 115.1,496.1 120.2,500.5 125.5,502.0 130.6,502.0 135.9,498.8 141.0,499.4 146.3,502.9 151.3,503.2 156.7,499.4 161.7,494.0 167.0,491.4 172.1,495.8 177.4,493.1 182.5,494.6 189.9,485.7 195.3,493.1 200.2,493.8 205.6,490.0 211.0,499.0 216.3,506.1 221.4,508.5 226.9,504.5 232.3,504.5 237.5,503.3 242.9,486.3 247.4,487.5 253.3,476.6 258.3,498.3 263.5,488.4 268.9,489.6 274.8,485.3 279.5,486.5 284.7,494.3 290.2,499.0 295.4,504.5 300.8,497.9 306.0,492.0 311.2,491.5 316.6,490.0 322.0,497.1 327.2,495.5 332.4,496.0 337.9,496.2 343.3,494.3 348.5,492.4 353.7,494.3 359.1,500.7 364.5,489.6 369.7,487.9 374.9,485.3 380.4,484.9 385.8,476.6 391.0,473.5 396.4,479.4 401.8,475.4 407.0,477.3 412.4,476.1 417.9,475.9 423.1,474.7 428.3,475.0 433.7,482.5 438.9,491.5 444.3,487.2 449.0,462.4 454.5,460.1 459.7,458.2 465.1,458.2 470.3,447.1 475.5,444.3 480.9,451.1 486.3,449.0 491.5,446.6 496.7,459.6 502.2,458.4 507.4,473.1 512.8,489.6 518.2,492.4 523.4,493.8 528.8,516.7 534.0,513.9 539.2,502.6 544.7,517.4 549.9,504.5 555.3,508.5 560.5,515.1 565.9,523.8 571.3,527.4 576.5,532.8 581.7,513.7 587.2,508.0 592.1,513.9 597.3,511.3 602.7,509.7 608.1,509.7 613.3,507.3 618.8,503.3 623.5,500.2 629.2,506.6 634.6,507.8 639.8,503.8 645.2,498.6 650.4,493.8 655.4,488.4 660.6,492.4 666.0,488.4 671.2,488.9 676.6,490.8 681.8,482.0 687.0,486.0 692.4,486.0" fill="none" stroke="#5b86e8" stroke-width="1" stroke-linejoin="round"/>
<line x1="693" y1="486" x2="774" y2="486" stroke="#9bb3f0" stroke-width="1.2" stroke-dasharray="2,3"/>
<path d="M15.40,502.90 C18.03,503.65 27.58,506.90 31.20,507.40 C34.82,507.90 35.38,506.05 37.10,505.90 C38.82,505.75 38.03,505.42 41.50,506.50 C44.97,507.58 53.45,512.25 57.90,512.40 C62.35,512.55 64.50,508.08 68.20,507.40 C71.90,506.72 77.13,507.95 80.10,508.30 C83.07,508.65 84.02,509.65 86.00,509.50 C87.98,509.35 88.78,509.08 92.00,507.40 C95.22,505.72 101.83,500.63 105.30,499.40 C108.77,498.17 109.58,500.15 112.80,500.00 C116.02,499.85 119.67,498.60 124.60,498.50 C129.53,498.40 137.45,499.07 142.40,499.40 C147.35,499.73 150.83,500.40 154.30,500.50 C157.77,500.60 159.73,500.43 163.20,500.00 C166.67,499.57 171.15,498.65 175.10,497.90 C179.05,497.15 183.58,496.10 186.90,495.50 C190.22,494.90 191.88,494.82 195.00,494.30 C198.12,493.78 202.05,492.20 205.60,492.40 C209.15,492.60 210.98,494.12 216.30,495.50 C221.62,496.88 232.20,500.12 237.50,500.70 C242.80,501.28 244.55,499.60 248.10,499.00 C251.65,498.40 255.25,498.08 258.80,497.10 C262.35,496.12 265.08,494.55 269.40,493.10 C273.72,491.65 279.47,488.28 284.70,488.40 C289.93,488.52 294.58,492.53 300.80,493.80 C307.02,495.07 315.82,495.72 322.00,496.00 C328.18,496.28 333.48,495.98 337.90,495.50 C342.32,495.02 344.57,493.18 348.50,493.10 C352.43,493.02 356.58,495.27 361.50,495.00 C366.42,494.73 373.25,492.75 378.00,491.50 C382.75,490.25 385.25,489.20 390.00,487.50 C394.75,485.80 400.00,483.23 406.50,481.30 C413.00,479.37 422.90,476.22 429.00,475.90 C435.10,475.58 437.40,480.07 443.10,479.40 C448.80,478.73 456.90,474.73 463.20,471.90 C469.50,469.07 476.18,465.55 480.90,462.40 C485.62,459.25 488.15,454.68 491.50,453.00 C494.85,451.32 497.85,451.72 501.00,452.30 C504.15,452.88 507.07,454.22 510.40,456.50 C513.73,458.78 517.45,462.07 521.00,466.00 C524.55,469.93 527.95,475.38 531.70,480.10 C535.45,484.82 539.97,490.35 543.50,494.30 C547.03,498.25 549.75,501.23 552.90,503.80 C556.05,506.37 558.85,507.67 562.40,509.70 C565.95,511.73 569.60,514.83 574.20,516.00 C578.80,517.17 585.83,516.50 590.00,516.70 C594.17,516.90 596.48,517.12 599.20,517.20 C601.92,517.28 603.95,517.67 606.30,517.20 C608.65,516.73 610.43,515.85 613.30,514.40 C616.17,512.95 619.95,509.68 623.50,508.50 C627.05,507.32 630.98,508.02 634.60,507.30 C638.22,506.58 641.67,505.38 645.20,504.20 C648.73,503.02 652.33,501.38 655.80,500.20 C659.27,499.02 662.53,498.08 666.00,497.10 C669.47,496.12 673.57,495.35 676.60,494.30 C679.63,493.25 681.57,491.87 684.20,490.80 C686.83,489.73 691.03,488.38 692.40,487.90" fill="none" stroke="#ee3a3a" stroke-width="1"/>
<path d="M11,551 L11,546 L776,546 L776,551" fill="none" stroke="#aaa" stroke-width="2"/>
<text x="121" y="563" fill="#666" font-size="11" text-anchor="middle">Aug 28</text>
<text x="364.3" y="563" fill="#666" font-size="11" text-anchor="middle">Aug 31</text>
<text x="607.9" y="563" fill="#666" font-size="11" text-anchor="middle">Sep 1</text>
<text x="697.6" y="563" fill="#666" font-size="11" text-anchor="middle">Sep 2</text>
<text x="766.3" y="563" fill="#666" font-size="11" text-anchor="middle">Sep 15</text>
<rect x="13.4" y="84" width="12.4" height="4" fill="#f28a8a"/>
<text x="33.5" y="90" fill="#777" font-size="10">MA 20 + Bollinger Bands</text>
<rect x="156" y="84" width="12.7" height="4" fill="#2f5f9f"/>
<text x="175.4" y="90" fill="#777" font-size="10">MA 50</text>
<text x="841.2" y="90" fill="#999" font-size="10" text-anchor="end">Research © 2020 Trading Central</text>
<rect x="14" y="429.7" width="12" height="4" fill="#5b86e8"/>
<text x="33.2" y="435" fill="#777" font-size="10">RSI</text>
<rect x="62.3" y="429.7" width="12.5" height="4" fill="#ee2222"/>
<text x="81.6" y="435" fill="#777" font-size="10">9MA</text>
</svg></div></body></html>
